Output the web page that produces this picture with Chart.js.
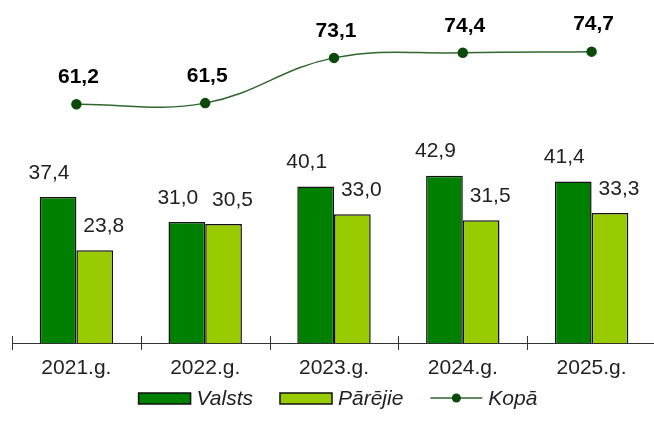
<!DOCTYPE html>
<html>
<head>
<meta charset="utf-8">
<script src="https://cdn.jsdelivr.net/npm/chart.js@4"></script>
<style>
  html, body { margin: 0; padding: 0; background: #fff; overflow: hidden; }
  #wrap { width: 662px; height: 430px; }
</style>
</head>
<body>
<div id="wrap"><canvas id="chart" width="662" height="430"></canvas></div>
<script>
// Data
const years = ['2021.g.', '2022.g.', '2023.g.', '2024.g.', '2025.g.'];
const valsts = [37.4, 31.0, 40.1, 42.9, 41.4];
const parejie = [23.8, 30.5, 33.0, 31.5, 33.3];
const kopa = [61.2, 61.5, 73.1, 74.4, 74.7];
const seriesNames = ['Valsts', 'Pārējie', 'Kopā'];

const FONT = '"Liberation Sans", Arial, sans-serif';
const fmt = v => v.toFixed(1).replace('.', ',');

// value labels above bars and points
const valueLabels = {
    id: 'valueLabels',
    afterDatasetsDraw(chart) {
        const ctx = chart.ctx;
        ctx.save();
        ctx.textAlign = 'center';
        ctx.textBaseline = 'middle';
        chart.data.datasets.forEach((ds, i) => {
            const meta = chart.getDatasetMeta(i);
            meta.data.forEach((el, j) => {
                const v = ds.data[j];
                if (ds.type === 'line') {
                    ctx.font = 'bold 21px ' + FONT;
                    ctx.fillStyle = '#000';
                    ctx.fillText(fmt(v), el.x + 2, el.y - 27);
                } else {
                    ctx.font = '21px ' + FONT;
                    ctx.fillStyle = '#222';
                    const dx = i === 0 ? -9 : 9;
                    ctx.fillText(fmt(v), el.x + dx, el.y - 24);
                }
            });
        });
        ctx.restore();
    }
};

// tick marks crossing the x axis + custom legend
const axisAndLegend = {
    id: 'axisAndLegend',
    afterDraw(chart) {
        const ctx = chart.ctx;
        const area = chart.chartArea;
        const n = years.length;
        const w = (area.right - area.left) / n;
        ctx.save();
        ctx.strokeStyle = '#333';
        ctx.lineWidth = 1;
        ctx.beginPath();
        ctx.moveTo(area.left, area.bottom + 0.5);
        ctx.lineTo(area.right, area.bottom + 0.5);
        for (let k = 0; k <= n; k++) {
            const x = Math.round(area.left + k * w) + 0.5;
            ctx.moveTo(x, area.bottom - 7);
            ctx.lineTo(x, area.bottom + 7);
        }
        ctx.stroke();

        // legend
        ctx.font = 'italic 21px ' + FONT;
        ctx.textBaseline = 'middle';
        ctx.textAlign = 'left';
        const symW = 52, gapT = 6, gapI = 27;
        const widths = seriesNames.map(s => symW + gapT + ctx.measureText(s).width);
        const total = widths.reduce((a, b) => a + b, 0) + gapI * (widths.length - 1);
        let x = (area.left + area.right) / 2 - total / 2 + 4;
        const y = 398;
        chart.data.datasets.forEach((ds, i) => {
            if (ds.type === 'line') {
                ctx.strokeStyle = ds.borderColor;
                ctx.lineWidth = 1.5;
                ctx.beginPath();
                ctx.moveTo(x, y);
                ctx.lineTo(x + symW, y);
                ctx.stroke();
                ctx.fillStyle = ds.pointBackgroundColor;
                ctx.beginPath();
                ctx.arc(x + symW / 2, y, 4.5, 0, Math.PI * 2);
                ctx.fill();
            } else {
                ctx.fillStyle = ds.backgroundColor;
                ctx.fillRect(x, y - 5, symW, 11);
                ctx.strokeStyle = '#111';
                ctx.lineWidth = 1.5;
                ctx.strokeRect(x, y - 5, symW, 11);
            }
            ctx.fillStyle = '#222';
            ctx.fillText(seriesNames[i], x + symW + gapT, y + 1);
            x += widths[i] + gapI;
        });
        ctx.restore();
    }
};

new Chart(document.getElementById('chart').getContext('2d'), {
    data: {
        labels: years,
        datasets: [
            {
                type: 'bar',
                label: seriesNames[0],
                data: valsts,
                backgroundColor: '#008000',
                borderColor: '#111',
                borderWidth: 1.5,
                categoryPercentage: 0.57,
                barPercentage: 1.0,
                order: 2
            },
            {
                type: 'bar',
                label: seriesNames[1],
                data: parejie,
                backgroundColor: '#99CC00',
                borderColor: '#111',
                borderWidth: 1.5,
                categoryPercentage: 0.57,
                barPercentage: 1.0,
                order: 2
            },
            {
                type: 'line',
                label: seriesNames[2],
                data: kopa,
                borderColor: '#2f662f',
                borderWidth: 1.5,
                pointBackgroundColor: '#0b4a0b',
                pointBorderColor: '#0b4a0b',
                pointRadius: 4.5,
                tension: 0.4,
                fill: false,
                order: 1
            }
        ]
    },
    options: {
        responsive: false,
        animation: false,
        layout: {
            padding: { left: 12, right: 1, top: 0, bottom: 0 }
        },
        plugins: {
            legend: { display: false },
            tooltip: { enabled: false }
        },
        scales: {
            x: {
                offset: true,
                grid: { display: false },
                border: { display: false },
                ticks: {
                    color: '#222',
                    padding: 5,
                    font: { family: FONT, size: 21 }
                },
                afterFit(scale) {
                    scale.height = 87;
                }
            },
            y: {
                display: false,
                min: 0,
                max: 86.4
            }
        }
    },
    plugins: [valueLabels, axisAndLegend]
});
</script>
</body>
</html>
